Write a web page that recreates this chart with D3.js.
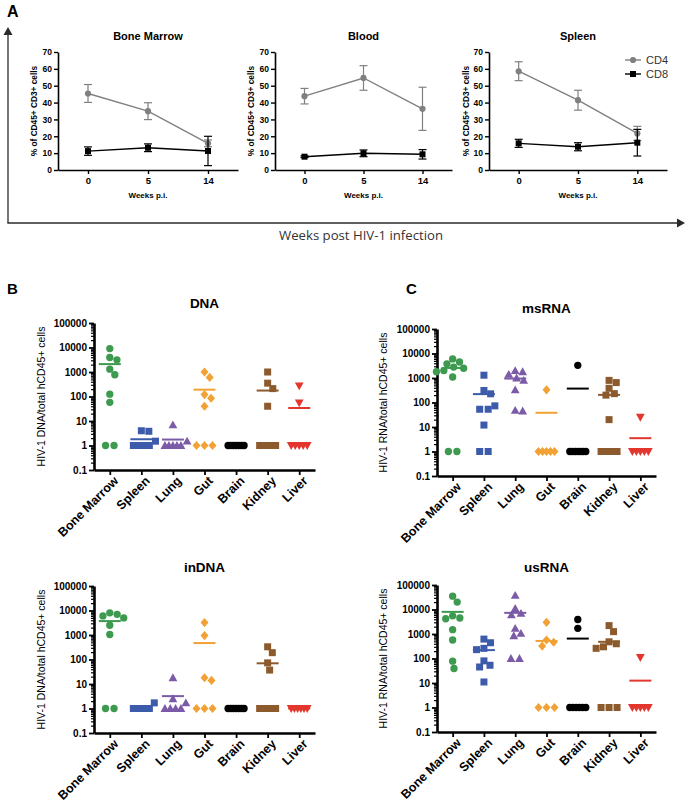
<!DOCTYPE html>
<html><head><meta charset="utf-8">
<script src="https://cdn.jsdelivr.net/npm/d3@7"></script>
<style>body{margin:0;background:#fff} svg{display:block}</style>
</head><body>
<svg id="c" width="685" height="803"></svg>
<script>
// ---------------- Panel A data ----------------
const weeks = ["0", "5", "14"];
const yTicksA = [0, 10, 20, 30, 40, 50, 60, 70];
const bmCD4 = [45.4, 34.9, 15.8];
const bmCD4Err = [5.3, 5.0, 2.0];
const bmCD8 = [11.2, 13.2, 11.3];
const bmCD8Err = [2.5, 2.3, 8.7];
const bloodCD4 = [43.8, 54.6, 36.3];
const bloodCD4Err = [4.6, 7.3, 12.8];
const bloodCD8 = [7.9, 9.9, 9.3];
const bloodCD8Err = [0.5, 2.0, 2.8];
const spleenCD4 = [58.6, 41.4, 21.7];
const spleenCD4Err = [5.6, 5.9, 4.2];
const spleenCD8 = [15.8, 13.8, 16.2];
const spleenCD8Err = [2.4, 2.4, 7.9];

// ---------------- Panels B/C data ----------------
const organs = ["Bone Marrow", "Spleen", "Lung", "Gut", "Brain", "Kidney", "Liver"];
const organColors = ["#3d9a4e", "#3d5bab", "#7b5ba8", "#f2a234", "#000000", "#8c5a2d", "#e3362d"];
const organShapes = ["circle", "square", "triangle", "diamond", "circle", "square", "triangleDown"];
const logTicks = [0.1, 1, 10, 100, 1000, 10000, 100000];

const dnaValues = [
  [9000, 3900, 3150, 1300, 770, 125, 58, 1, 1],
  [4, 3.8, 1.5, 1, 1, 1, 1],
  [7, 1.5, 1, 1, 1, 1, 1],
  [1000, 600, 120, 85, 40, 1, 1, 1],
  [1, 1, 1, 1, 1, 1, 1],
  [1000, 350, 210, 40, 1, 1, 1, 1, 1],
  [270, 55, 1, 1, 1, 1, 1]
];
const dnaMeans = [2100, 1.8, 1.75, 190, 1, 175, 34];

const msRnaValues = [
  [6000, 4500, 3800, 2800, 2500, 2000, 1800, 1100, 1, 1],
  [1300, 310, 226, 73, 53, 53, 12, 1, 1],
  [2000, 1800, 1400, 1000, 800, 330, 45, 48],
  [330, 1, 1, 1, 1, 1],
  [3300, 1, 1, 1, 1, 1, 1, 1],
  [800, 650, 380, 230, 200, 20, 1, 1, 1, 1],
  [25, 1, 1, 1, 1, 1]
];
const msRnaMeans = [2570, 220, 950, 38, 370, 205, 3.5];

const inDnaValues = [
  [8000, 7000, 6000, 5000, 2500, 1050, 1, 1],
  [1.7, 1, 1, 1, 1, 1],
  [18, 2.5, 1.7, 1, 1, 1, 1],
  [3200, 950, 18, 14, 1, 1, 1],
  [1, 1, 1, 1, 1, 1, 1],
  [330, 190, 73, 37, 1, 1, 1, 1],
  [1, 1, 1, 1, 1, 1]
];
const inDnaMeans = [3700, 1.1, 3.2, 470, 1, 70, 1];

const usRnaValues = [
  [35000, 20000, 5500, 4500, 4200, 1500, 570, 78, 39],
  [620, 440, 260, 230, 80, 53, 45, 11],
  [38000, 11000, 7000, 6000, 1700, 1070, 850, 100, 100],
  [3000, 570, 460, 320, 1, 1, 1],
  [3900, 1700, 1, 1, 1, 1, 1, 1],
  [2200, 1250, 480, 400, 300, 260, 1, 1, 1],
  [110, 1, 1, 1, 1, 1]
];
const usRnaMeans = [8000, 220, 7300, 520, 650, 480, 12.5];

// ---------------- drawing ----------------
const FONT = "'Liberation Sans', Arial, Helvetica, sans-serif";
const svg = d3.select("#c").attr("font-family", FONT);

function styleAxis(sel, domainW, tickW, fs) {
  sel.select(".domain").attr("stroke", "#000").attr("stroke-width", domainW);
  sel.selectAll(".tick line").attr("stroke", "#000").attr("stroke-width", tickW);
  sel.selectAll(".tick text").attr("font-family", FONT).attr("font-weight", "bold")
     .attr("font-size", fs).attr("fill", "#000");
}

function shapePath(type) {
  switch (type) {
    case "circle": return d3.symbol(d3.symbolCircle, 42)();
    case "square": return "M-3.5,-3.5H3.5V3.5H-3.5Z";
    case "triangle": return "M0,-4.4L4.4,3.4H-4.4Z";
    case "triangleDown": return "M0,4.4L4.4,-3.4H-4.4Z";
    case "diamond": return "M0,-4.6L4,0L0,4.6L-4,0Z";
  }
}

// ---- Panel A ----
function lineChart(xr, title, cd4, cd4e, cd8, cd8e, ylabX, legend) {
  const x = d3.scalePoint(weeks, xr).padding(0.5);
  const y = d3.scaleLinear([0, 70], [170, 52]);
  const g = svg.append("g");
  const ya = g.append("g").attr("transform", `translate(${xr[0]},0)`)
    .call(d3.axisLeft(y).tickValues(yTicksA).tickSize(4).tickSizeOuter(0).tickPadding(2));
  styleAxis(ya, 1.6, 1.4, 8.5);
  const xa = g.append("g").attr("transform", "translate(0,170)")
    .call(d3.axisBottom(x).tickSize(4).tickSizeOuter(0).tickPadding(3));
  styleAxis(xa, 1.6, 1.4, 9.5);

  const series = [
    {v: cd4, e: cd4e, c: "#808080", s: "circle"},
    {v: cd8, e: cd8e, c: "#000000", s: "square"}
  ];
  series.forEach(sr => {
    g.append("path")
      .attr("d", d3.line().x((d, i) => x(weeks[i])).y(d => y(d))(sr.v))
      .attr("fill", "none").attr("stroke", sr.c).attr("stroke-width", 1.4);
    sr.v.forEach((v, i) => {
      const cx = x(weeks[i]);
      const y1 = y(Math.max(0, v - sr.e[i])), y2 = y(v + sr.e[i]);
      g.append("line").attr("x1", cx).attr("x2", cx).attr("y1", y1).attr("y2", y2)
        .attr("stroke", sr.c).attr("stroke-width", 1.2);
      [y1, y2].forEach(yy => g.append("line").attr("x1", cx - 4).attr("x2", cx + 4)
        .attr("y1", yy).attr("y2", yy).attr("stroke", sr.c).attr("stroke-width", 1.2));
      g.append("path").attr("transform", `translate(${cx},${y(v)})`)
        .attr("d", sr.s === "circle" ? d3.symbol(d3.symbolCircle, 30)() : "M-3,-3H3V3H-3Z")
        .attr("fill", sr.c);
    });
  });
  const cxm = (xr[0] + xr[1]) / 2;
  g.append("text").attr("x", cxm).attr("y", 40).attr("text-anchor", "middle")
    .attr("font-weight", "bold").attr("font-size", 11).text(title);
  g.append("text").attr("x", cxm).attr("y", 198).attr("text-anchor", "middle")
    .attr("font-weight", "bold").attr("font-size", 8).text("Weeks p.i.");
  g.append("text").attr("transform", `translate(${ylabX},111) rotate(-90)`)
    .attr("text-anchor", "middle").attr("font-weight", "bold").attr("font-size", 8.3)
    .text("% of CD45+ CD3+ cells");
  if (legend) {
    series.forEach((sr, i) => {
      const ly = 60 + i * 14;
      g.append("line").attr("x1", 625).attr("x2", 641).attr("y1", ly).attr("y2", ly)
        .attr("stroke", sr.c).attr("stroke-width", 1.4);
      g.append("path").attr("transform", `translate(633,${ly})`)
        .attr("d", sr.s === "circle" ? d3.symbol(d3.symbolCircle, 30)() : "M-3,-3H3V3H-3Z")
        .attr("fill", sr.c);
      g.append("text").attr("x", 646).attr("y", ly + 4).attr("font-size", 11)
        .attr("fill", "#333").text(i === 0 ? "CD4" : "CD8");
    });
  }
}

lineChart([58, 238], "Bone Marrow", bmCD4, bmCD4Err, bmCD8, bmCD8Err, 37, false);
lineChart([275, 452], "Blood", bloodCD4, bloodCD4Err, bloodCD8, bloodCD8Err, 254, false);
lineChart([489, 667], "Spleen", spleenCD4, spleenCD4Err, spleenCD8, spleenCD8Err, 469, true);

// outer arrows
const arrowC = "#2a2a2a";
svg.append("line").attr("x1", 8).attr("x2", 8).attr("y1", 32).attr("y2", 223)
  .attr("stroke", arrowC).attr("stroke-width", 1.3);
svg.append("path").attr("d", "M8,27L12.5,35L3.5,35Z").attr("fill", arrowC);
svg.append("line").attr("x1", 7.4).attr("x2", 679).attr("y1", 223).attr("y2", 223)
  .attr("stroke", arrowC).attr("stroke-width", 1.3);
svg.append("path").attr("d", "M685,223L677,218.5L677,227.5Z").attr("fill", arrowC);
svg.append("text").attr("x", 361).attr("y", 240).attr("text-anchor", "middle")
  .attr("font-family", "'Open Sans', sans-serif").attr("font-size", 13.5).attr("fill", "#333")
  .attr("textLength", 164).attr("lengthAdjust", "spacingAndGlyphs")
  .text("Weeks post HIV-1 infection");
svg.append("text").attr("x", 7).attr("y", 17).attr("font-weight", "bold").attr("font-size", 16).text("A");
svg.append("text").attr("x", 7).attr("y", 294).attr("font-weight", "bold").attr("font-size", 15).text("B");
svg.append("text").attr("x", 406).attr("y", 294).attr("font-weight", "bold").attr("font-size", 15).text("C");

// ---- Panels B/C ----
function swarm(vals, y) {
  const d = 7.5;
  const pts = vals.map(v => ({v, py: y(v), dx: 0}));
  const counts = d3.rollup(vals, a => a.length, v => v);
  const placed = [];
  counts.forEach((n, v) => {
    if (n < 2) return;
    const grp = pts.filter(p => p.v === v);
    const s = Math.min(8.5, 16 / (n - 1));
    grp.forEach((p, i) => { p.dx = (i - (n - 1) / 2) * s; placed.push(p); });
  });
  pts.filter(p => counts.get(p.v) < 2).sort((a, b) => a.py - b.py).forEach(p => {
    const ivs = placed.filter(q => Math.abs(q.py - p.py) < d).map(q => {
      const h = Math.sqrt(d * d - (q.py - p.py) ** 2);
      return [q.dx - h, q.dx + h];
    });
    const cands = [0].concat(ivs.flatMap(iv => [iv[0], iv[1]]));
    const ok = cands.filter(c => ivs.every(iv => c <= iv[0] + 1e-6 || c >= iv[1] - 1e-6));
    ok.sort((a, b) => Math.abs(a) - Math.abs(b) || b - a);
    p.dx = ok[0];
    placed.push(p);
  });
  return pts;
}

function dotChart(xr, yr, title, titleY, ylabel, ylabX, values, means) {
  const x = d3.scalePoint(organs, xr).padding(0.5);
  const y = d3.scaleLog([0.1, 100000], yr);
  const g = svg.append("g");
  const minor = [];
  for (let e = -1; e < 5; e++) for (let m = 2; m <= 9; m++) minor.push(m * Math.pow(10, e));
  const ym = g.append("g").attr("transform", `translate(${xr[0]},0)`)
    .call(d3.axisLeft(y).tickValues(minor).tickSize(3).tickFormat(""));
  ym.select(".domain").remove();
  ym.selectAll(".tick line").attr("stroke", "#000").attr("stroke-width", 1.2);
  const ya = g.append("g").attr("transform", `translate(${xr[0]},0)`)
    .call(d3.axisLeft(y).tickValues(logTicks).tickSize(5).tickSizeOuter(0).tickPadding(2)
      .tickFormat(d => d < 1 ? "0.1" : d3.format("d")(d)));
  styleAxis(ya, 2.6, 1.8, 10);
  const xa = g.append("g").attr("transform", `translate(0,${yr[0]})`)
    .call(d3.axisBottom(x).tickSize(5).tickSizeOuter(0));
  styleAxis(xa, 2.6, 1.8, 12.5);
  xa.selectAll(".tick text").attr("text-anchor", "end").attr("x", -2).attr("y", 10)
    .attr("dy", "0.35em").attr("transform", "rotate(-45)");

  values.forEach((vals, k) => {
    const cx = x(organs[k]);
    const col = organColors[k];
    const pts = swarm(vals, y);
    pts.forEach(p => {
      g.append("path").attr("transform", `translate(${cx + p.dx},${p.py})`)
        .attr("d", shapePath(organShapes[k])).attr("fill", col);
    });
    g.append("line").attr("x1", cx - 11).attr("x2", cx + 11)
      .attr("y1", y(means[k])).attr("y2", y(means[k]))
      .attr("stroke", col).attr("stroke-width", 2);
  });

  g.append("text").attr("x", (xr[0] + xr[1]) / 2).attr("y", titleY).attr("text-anchor", "middle")
    .attr("font-weight", "bold").attr("font-size", 13.5).text(title);
  g.append("text").attr("transform", `translate(${ylabX},${(yr[0] + yr[1]) / 2}) rotate(-90)`)
    .attr("text-anchor", "middle").attr("font-size", 10.5).text(ylabel);
}

dotChart([94, 315], [470, 323], "DNA", 308, "HIV-1 DNA/total hCD45+ cells", 45, dnaValues, dnaMeans);
dotChart([437, 656], [476, 329], "msRNA", 313, "HIV-1 RNA/total hCD45+ cells", 387, msRnaValues, msRnaMeans);
dotChart([94, 315], [733, 586], "inDNA", 572, "HIV-1 DNA/total hCD45+ cells", 45, inDnaValues, inDnaMeans);
dotChart([437, 656], [732, 585], "usRNA", 572, "HIV-1 RNA/total hCD45+ cells", 387, usRnaValues, usRnaMeans);
</script>
</body></html>
